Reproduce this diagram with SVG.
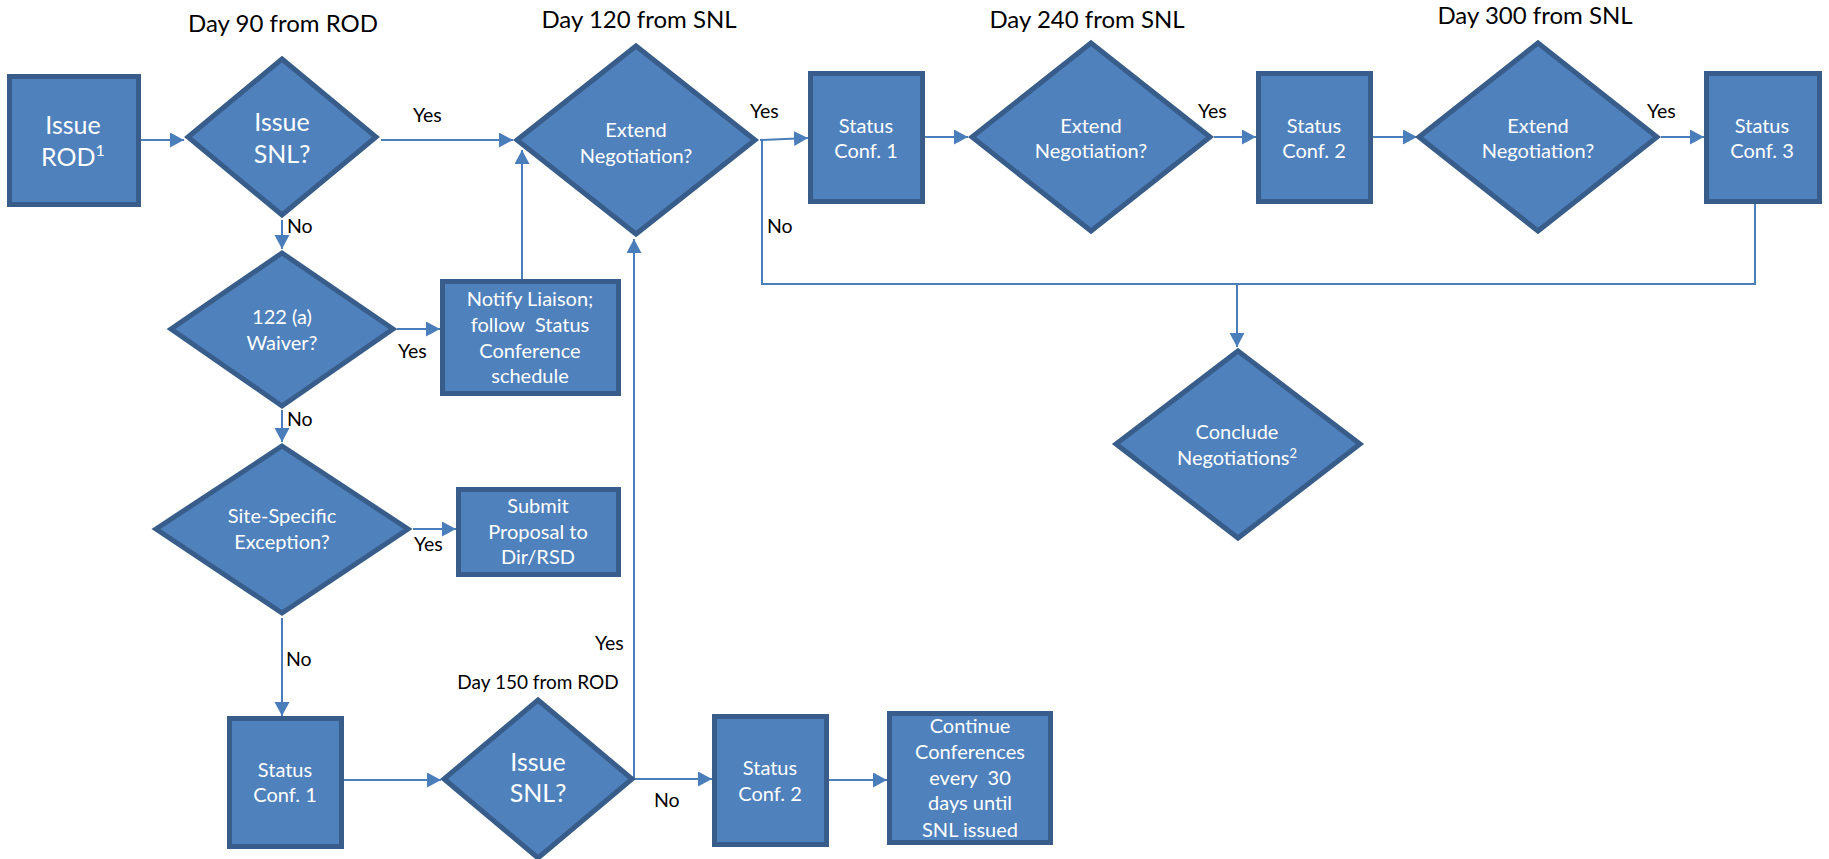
<svg xmlns="http://www.w3.org/2000/svg" width="1829" height="859" viewBox="0 0 1829 859">
<defs>
<style>
.box{fill:#4F81BD;stroke:#385D8A;stroke-width:5;stroke-linejoin:miter}
.nt{fill:#FFFFFF;font-family:Lato,"Liberation Sans",sans-serif;text-anchor:middle}
.big{font-size:25px}
.mid{font-size:20px}
.lbl{fill:#000000;font-family:Lato,"Liberation Sans",sans-serif;font-size:19.5px}
.ttl{fill:#000000;font-family:Lato,"Liberation Sans",sans-serif;font-size:24px;text-anchor:middle}
.con{fill:none;stroke:#4A7EBB;stroke-width:2}
.pre{white-space:pre}
</style>
<marker id="ah" markerUnits="userSpaceOnUse" markerWidth="15" markerHeight="16" refX="14" refY="7.5" orient="auto">
<path d="M0,0 L14,7.5 L0,15 z" fill="#4A7EBB"/>
</marker>
</defs>
<rect width="1829" height="859" fill="#FFFFFF"/>

<g id="titles">
<text class="ttl" x="283" y="32">Day 90 from ROD</text>
<text class="ttl" x="639" y="28">Day 120 from SNL</text>
<text class="ttl" x="1087" y="28">Day 240 from SNL</text>
<text class="ttl" x="1535" y="24">Day 300 from SNL</text>
<text class="ttl" x="538" y="689" style="font-size:19px">Day 150 from ROD</text>
</g>

<g id="connectors">
<line class="con" x1="141" y1="140" x2="184" y2="140" marker-end="url(#ah)"/>
<line class="con" x1="381" y1="140" x2="513" y2="140" marker-end="url(#ah)"/>
<line class="con" x1="282" y1="220" x2="282" y2="249" marker-end="url(#ah)"/>
<line class="con" x1="397" y1="329" x2="440" y2="329" marker-end="url(#ah)"/>
<line class="con" x1="522" y1="279" x2="522" y2="150" marker-end="url(#ah)"/>
<line class="con" x1="282" y1="410" x2="282" y2="442" marker-end="url(#ah)"/>
<line class="con" x1="413" y1="529" x2="456" y2="529" marker-end="url(#ah)"/>
<line class="con" x1="282" y1="618" x2="282" y2="716" marker-end="url(#ah)"/>
<line class="con" x1="344" y1="780" x2="441" y2="780" marker-end="url(#ah)"/>
<polyline class="con" points="637,779 634,779 634,239" marker-end="url(#ah)"/>
<line class="con" x1="637" y1="779" x2="712" y2="779" marker-end="url(#ah)"/>
<line class="con" x1="829" y1="780" x2="887" y2="780" marker-end="url(#ah)"/>
<line class="con" x1="760" y1="140" x2="808" y2="138" marker-end="url(#ah)"/>
<line class="con" x1="925" y1="137" x2="968" y2="137" marker-end="url(#ah)"/>
<line class="con" x1="1214" y1="137" x2="1256" y2="137" marker-end="url(#ah)"/>
<line class="con" x1="1373" y1="137" x2="1417" y2="137" marker-end="url(#ah)"/>
<line class="con" x1="1661" y1="137" x2="1704" y2="137" marker-end="url(#ah)"/>
<polyline class="con" points="760,140 762,140 762,284 1755,284 1755,204"/>
<line class="con" x1="1237" y1="284" x2="1237" y2="347" marker-end="url(#ah)"/>
<text class="lbl" x="413" y="122">Yes</text>
<text class="lbl" x="287" y="233">No</text>
<text class="lbl" x="398" y="358">Yes</text>
<text class="lbl" x="287" y="426">No</text>
<text class="lbl" x="414" y="551">Yes</text>
<text class="lbl" x="286" y="666">No</text>
<text class="lbl" x="595" y="650">Yes</text>
<text class="lbl" x="654" y="807">No</text>
<text class="lbl" x="750" y="118">Yes</text>
<text class="lbl" x="767" y="233">No</text>
<text class="lbl" x="1198" y="118">Yes</text>
<text class="lbl" x="1647" y="118">Yes</text>
</g>

<g id="issue-rod">
<rect class="box" x="9.5" y="76.5" width="129" height="128"/>
<text class="nt big" x="73" y="134">Issue</text>
<text class="nt big" x="73" y="166">ROD<tspan font-size="16" dy="-10">1</tspan></text>
</g>

<g id="issue-snl-90">
<polygon class="box" points="282,59 376,137 282,215 188,137"/>
<text class="nt big" x="282" y="131">Issue</text>
<text class="nt big" x="282" y="163">SNL?</text>
</g>

<g id="extend-1">
<polygon class="box" points="636,46 755,140 636,234 517,140"/>
<text class="nt mid" x="636" y="137">Extend</text>
<text class="nt mid" x="636" y="163">Negotiation?</text>
</g>

<g id="status-conf-1-top">
<rect class="box" x="810.5" y="73.5" width="112" height="128"/>
<text class="nt mid" x="866" y="133">Status</text>
<text class="nt mid" x="866" y="158">Conf. 1</text>
</g>

<g id="extend-2">
<polygon class="box" points="1091,43 1210,137 1091,231 972,137"/>
<text class="nt mid" x="1091" y="133">Extend</text>
<text class="nt mid" x="1091" y="158">Negotiation?</text>
</g>

<g id="status-conf-2-top">
<rect class="box" x="1258.5" y="73.5" width="112" height="128"/>
<text class="nt mid" x="1314" y="133">Status</text>
<text class="nt mid" x="1314" y="158">Conf. 2</text>
</g>

<g id="extend-3">
<polygon class="box" points="1538,43 1657,137 1538,231 1419,137"/>
<text class="nt mid" x="1538" y="133">Extend</text>
<text class="nt mid" x="1538" y="158">Negotiation?</text>
</g>

<g id="status-conf-3-top">
<rect class="box" x="1706.5" y="73.5" width="113" height="128"/>
<text class="nt mid" x="1762" y="133">Status</text>
<text class="nt mid" x="1762" y="158">Conf. 3</text>
</g>

<g id="waiver">
<polygon class="box" points="282,253 393,329 282,406 171,329"/>
<text class="nt mid" x="282" y="324">122 (a)</text>
<text class="nt mid" x="282" y="350">Waiver?</text>
</g>

<g id="notify">
<rect class="box" x="442.5" y="281.5" width="176" height="112"/>
<text class="nt mid" x="530" y="306">Notify Liaison;</text>
<text class="nt mid pre" x="530" y="332">follow  Status</text>
<text class="nt mid" x="530" y="358">Conference</text>
<text class="nt mid" x="530" y="383">schedule</text>
</g>

<g id="site-specific">
<polygon class="box" points="282,446 408,529 282,613 156,529"/>
<text class="nt mid" x="282" y="523">Site-Specific</text>
<text class="nt mid" x="282" y="549">Exception?</text>
</g>

<g id="submit">
<rect class="box" x="458.5" y="489.5" width="160" height="85"/>
<text class="nt mid" x="538" y="513">Submit</text>
<text class="nt mid" x="538" y="539">Proposal to</text>
<text class="nt mid" x="538" y="564">Dir/RSD</text>
</g>

<g id="conclude">
<polygon class="box" points="1238,351 1360,444 1238,538 1116,444"/>
<text class="nt mid" x="1237" y="439">Conclude</text>
<text class="nt mid" x="1237" y="465">Negotiations<tspan font-size="13" dy="-7">2</tspan></text>
</g>

<g id="status-conf-1-bottom">
<rect class="box" x="229.5" y="718.5" width="112" height="128"/>
<text class="nt mid" x="285" y="777">Status</text>
<text class="nt mid" x="285" y="802">Conf. 1</text>
</g>

<g id="issue-snl-150">
<polygon class="box" points="538,700 632,779 538,858 444,779"/>
<text class="nt big" x="538" y="771">Issue</text>
<text class="nt big" x="538" y="802">SNL?</text>
</g>

<g id="status-conf-2-bottom">
<rect class="box" x="714.5" y="716.5" width="112" height="128"/>
<text class="nt mid" x="770" y="775">Status</text>
<text class="nt mid" x="770" y="801">Conf. 2</text>
</g>

<g id="continue">
<rect class="box" x="889.5" y="713.5" width="161" height="129"/>
<text class="nt mid" x="970" y="733">Continue</text>
<text class="nt mid" x="970" y="759">Conferences</text>
<text class="nt mid pre" x="970" y="785">every  30</text>
<text class="nt mid" x="970" y="810">days until</text>
<text class="nt mid" x="970" y="837">SNL issued</text>
</g>
</svg>
